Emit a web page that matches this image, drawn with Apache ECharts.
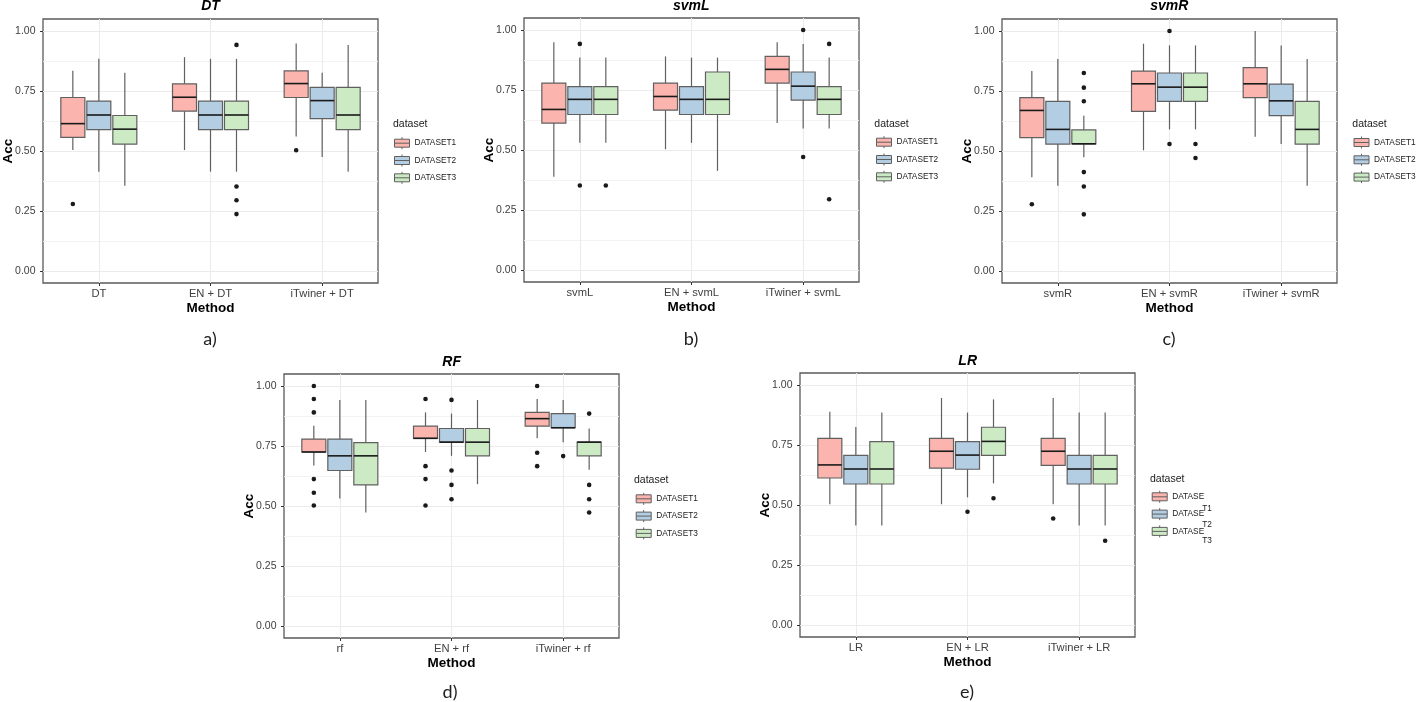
<!DOCTYPE html>
<html><head><meta charset="utf-8">
<script src="https://cdn.jsdelivr.net/npm/echarts@6/dist/echarts.min.js"></script>
<style>html,body{margin:0;padding:0;background:#fff}#c{width:1416px;height:702px}</style>
</head><body><div id="c"></div>
<script>
// ---------------- DATA ----------------
const datasetNames = ['DATASET1', 'DATASET2', 'DATASET3'];
const panelTitles = ['DT', 'svmL', 'svmR', 'RF', 'LR'];
const panelLetters = ['a)', 'b)', 'c)', 'd)', 'e)'];
const yMajorTicks = [0, 0.25, 0.5, 0.75, 1];
const yMinorTicks = [0.125, 0.375, 0.625, 0.875];
const yTickLabels = ['0.00', '0.25', '0.50', '0.75', '1.00'];

const catsDT = ['DT', 'EN + DT', 'iTwiner + DT'];
const catsSvmL = ['svmL', 'EN + svmL', 'iTwiner + svmL'];
const catsSvmR = ['svmR', 'EN + svmR', 'iTwiner + svmR'];
const catsRF = ['rf', 'EN + rf', 'iTwiner + rf'];
const catsLR = ['LR', 'EN + LR', 'iTwiner + LR'];

// each box: [lower whisker, Q1, median, Q3, upper whisker]
const boxDT1 = [[0.504, 0.557, 0.614, 0.723, 0.834], [0.504, 0.666, 0.724, 0.780, 0.891], [0.560, 0.723, 0.781, 0.834, 0.948]];
const boxDT2 = [[0.414, 0.589, 0.650, 0.708, 0.884], [0.414, 0.589, 0.650, 0.708, 0.884], [0.475, 0.635, 0.710, 0.765, 0.826]];
const boxDT3 = [[0.355, 0.529, 0.591, 0.648, 0.826], [0.414, 0.589, 0.650, 0.708, 0.884], [0.414, 0.589, 0.650, 0.765, 0.942]];
const outDT1 = [[0.279], [], [0.503]];
const outDT2 = [[], [], []];
const outDT3 = [[], [0.942, 0.352, 0.295, 0.237], []];

const boxSvmL1 = [[0.389, 0.612, 0.669, 0.779, 0.949], [0.503, 0.666, 0.723, 0.779, 0.890], [0.613, 0.779, 0.836, 0.890, 0.949]];
const boxSvmL2 = [[0.530, 0.648, 0.711, 0.764, 0.885], [0.530, 0.648, 0.711, 0.764, 0.885], [0.590, 0.708, 0.766, 0.825, 0.942]];
const boxSvmL3 = [[0.530, 0.648, 0.711, 0.764, 0.885], [0.413, 0.648, 0.711, 0.825, 0.885], [0.590, 0.648, 0.711, 0.764, 0.885]];
const outSvmL1 = [[], [], []];
const outSvmL2 = [[0.942, 0.352], [], [1.0, 0.471]];
const outSvmL3 = [[0.352], [], [0.942, 0.295]];

const boxSvmR1 = [[0.391, 0.556, 0.669, 0.722, 0.833], [0.503, 0.665, 0.780, 0.833, 0.947], [0.559, 0.722, 0.780, 0.847, 1.0]];
const boxSvmR2 = [[0.355, 0.529, 0.590, 0.707, 0.883], [0.590, 0.707, 0.766, 0.825, 0.940], [0.529, 0.647, 0.709, 0.779, 0.940]];
const boxSvmR3 = [[0.474, 0.530, 0.530, 0.588, 0.647], [0.590, 0.707, 0.766, 0.825, 0.940], [0.355, 0.529, 0.590, 0.707, 0.883]];
const outSvmR1 = [[0.278], [], []];
const outSvmR2 = [[], [1.0, 0.529], []];
const outSvmR3 = [[0.825, 0.764, 0.707, 0.412, 0.352, 0.236], [0.529, 0.471], []];

const boxRF1 = [[0.669, 0.725, 0.725, 0.779, 0.834], [0.725, 0.782, 0.782, 0.833, 0.890], [0.782, 0.833, 0.864, 0.890, 0.946]];
const boxRF2 = [[0.531, 0.648, 0.709, 0.779, 0.942], [0.709, 0.766, 0.766, 0.823, 0.885], [0.766, 0.826, 0.826, 0.885, 0.942]];
const boxRF3 = [[0.473, 0.588, 0.709, 0.764, 0.942], [0.591, 0.709, 0.766, 0.823, 0.942], [0.651, 0.709, 0.766, 0.766, 0.823]];
const outRF1 = [[1.0, 0.946, 0.890, 0.612, 0.555, 0.502], [0.946, 0.666, 0.612, 0.502], [1.0, 0.722, 0.666]];
const outRF2 = [[], [0.942, 0.648, 0.588, 0.528], [0.708]];
const outRF3 = [[], [], [0.885, 0.588, 0.528, 0.473]];

const boxLR1 = [[0.503, 0.6125, 0.667, 0.778, 0.889], [0.503, 0.654, 0.724, 0.778, 0.946], [0.503, 0.665, 0.724, 0.778, 0.946]];
const boxLR2 = [[0.415, 0.5875, 0.650, 0.707, 0.825], [0.532, 0.649, 0.708, 0.764, 0.885], [0.415, 0.5875, 0.650, 0.707, 0.885]];
const boxLR3 = [[0.415, 0.5875, 0.650, 0.764, 0.885], [0.590, 0.707, 0.765, 0.824, 0.940], [0.415, 0.5875, 0.650, 0.707, 0.885]];
const outLR1 = [[], [], [0.444]];
const outLR2 = [[], [0.472], []];
const outLR3 = [[], [0.528], [0.351]];

// ---------------- LAYOUT / STYLE ----------------
const FONT = '"Liberation Sans", Arial, sans-serif';
const COLORS = ['#fbb4ae', '#b3cde3', '#ccebc5'];
const DODGE = 0.2328, BOXW = 0.215;

const panels = [
  { title: panelTitles[0], cats: catsDT, boxes: [boxDT1, boxDT2, boxDT3], outs: [outDT1, outDT2, outDT3],
    g: { left: 43, top: 19 }, leg: { left: 394, top: 136.7 }, dsXY: [393, 124.5], titleXY: [210.5, 6.5], letterXY: [210, 339] },
  { title: panelTitles[1], cats: catsSvmL, boxes: [boxSvmL1, boxSvmL2, boxSvmL3], outs: [outSvmL1, outSvmL2, outSvmL3],
    g: { left: 524, top: 18 }, leg: { left: 876, top: 135.7 }, dsXY: [874.3, 124], titleXY: [691.2, 6.5], letterXY: [691, 339] },
  { title: panelTitles[2], cats: catsSvmR, boxes: [boxSvmR1, boxSvmR2, boxSvmR3], outs: [outSvmR1, outSvmR2, outSvmR3],
    g: { left: 1002, top: 19 }, leg: { left: 1353.5, top: 136 }, dsXY: [1352.3, 124.5], titleXY: [1169.2, 6.5], letterXY: [1169, 339] },
  { title: panelTitles[3], cats: catsRF, boxes: [boxRF1, boxRF2, boxRF3], outs: [outRF1, outRF2, outRF3],
    g: { left: 284, top: 374 }, leg: { left: 635.7, top: 492.3 }, dsXY: [634, 480], titleXY: [451.7, 362.3], letterXY: [450, 692] },
  { title: panelTitles[4], cats: catsLR, boxes: [boxLR1, boxLR2, boxLR3], outs: [outLR1, outLR2, outLR3],
    g: { left: 800, top: 373 }, leg: { left: 1151.7, top: 490.3 }, dsXY: [1150, 479], titleXY: [967.7, 361], letterXY: [967, 692], glitch: true }
];

function makeBoxRender(k) {
  return function (params, api) {
    const ci = api.value(0);
    const band = api.size([1, 0])[0];
    const dx = (k - 1) * band * DODGE, hw = band * BOXW / 2;
    const lo = api.coord([ci, api.value(1)]);
    const q1 = api.coord([ci, api.value(2)]);
    const md = api.coord([ci, api.value(3)]);
    const q3 = api.coord([ci, api.value(4)]);
    const hi = api.coord([ci, api.value(5)]);
    const x = lo[0] + dx;
    const ws = { stroke: '#606060', lineWidth: 1.2 };
    return { type: 'group', children: [
      { type: 'line', shape: { x1: x, y1: hi[1], x2: x, y2: q3[1] }, style: ws },
      { type: 'line', shape: { x1: x, y1: q1[1], x2: x, y2: lo[1] }, style: ws },
      { type: 'rect', shape: { x: x - hw, y: q3[1], width: hw * 2, height: q1[1] - q3[1] },
        style: { fill: COLORS[k], stroke: '#606060', lineWidth: 1.2 } },
      { type: 'line', shape: { x1: x - hw, y1: md[1], x2: x + hw, y2: md[1] }, style: { stroke: '#1a1a1a', lineWidth: 1.6 } }
    ] };
  };
}
function makeOutRender(k) {
  return function (params, api) {
    const ci = api.value(0);
    const band = api.size([1, 0])[0];
    const p = api.coord([ci, api.value(1)]);
    return { type: 'circle', shape: { cx: p[0] + (k - 1) * band * DODGE, cy: p[1], r: 2.3 }, style: { fill: '#1a1a1a' } };
  };
}

const KEY_ICON = 'path://M0,2L15,2L15,10L0,10Z M0,6L15,6 M7.5,0L7.5,2 M7.5,10L7.5,12';

const grids = [], xAxes = [], yAxes = [], series = [], legends = [], graphics = [];
panels.forEach(function (P, i) {
  grids.push({ left: P.g.left, top: P.g.top, width: 335, height: 264, show: true,
    outerBoundsMode: 'none', containLabel: false,
    borderColor: '#5a5a5a', borderWidth: 1.3, backgroundColor: '#fff' });
  xAxes.push({ gridIndex: i, type: 'value', min: -0.5, max: 2.5, position: 'bottom',
    name: 'Method', nameLocation: 'middle', nameGap: 18, nameMoveOverlap: false,
    nameTextStyle: { fontWeight: 'bold', fontSize: 13.5, color: '#000', fontFamily: FONT },
    axisLine: { show: false, onZero: false },
    axisTick: { show: true, inside: false, customValues: [0, 1, 2], length: 3, lineStyle: { color: '#333', width: 1 } },
    axisLabel: { customValues: [0, 1, 2], formatter: function (v) { return P.cats[Math.round(v)]; },
      margin: 5, fontSize: 11.2, color: '#404040', fontFamily: FONT },
    splitLine: { show: true, lineStyle: { color: '#ebebeb', width: 1.1 } } });
  yAxes.push({ gridIndex: i, type: 'value', min: -0.05, max: 1.05, position: 'left',
    name: 'Acc', nameLocation: 'middle', nameRotate: 90, nameGap: 28, nameMoveOverlap: false,
    nameTextStyle: { fontWeight: 'bold', fontSize: 13.5, color: '#000', fontFamily: FONT },
    axisLine: { show: false, onZero: false },
    axisTick: { show: true, inside: false, customValues: yMajorTicks, length: 3, lineStyle: { color: '#333', width: 1 } },
    axisLabel: { customValues: yMajorTicks, formatter: function (v) { return yTickLabels[yMajorTicks.indexOf(v)]; },
      margin: 7.5, fontSize: 10.5, color: '#404040', fontFamily: FONT },
    splitLine: { show: true, lineStyle: { color: '#ebebeb', width: 1.1 } } });
  yAxes.push({ gridIndex: i, type: 'value', min: -0.05, max: 1.05, position: 'right',
    axisLine: { show: false, onZero: false }, axisTick: { show: false, customValues: yMinorTicks },
    axisLabel: { show: false, customValues: yMinorTicks },
    splitLine: { show: true, lineStyle: { color: '#f2f2f2', width: 0.9 } } });
  for (let k = 0; k < 3; k++) {
    series.push({ type: 'custom', name: datasetNames[k], xAxisIndex: i, yAxisIndex: 2 * i,
      itemStyle: { color: COLORS[k] }, renderItem: makeBoxRender(k),
      encode: { x: 0, y: [1, 2, 3, 4, 5] },
      data: P.boxes[k].map(function (b, ci) { return [ci].concat(b); }) });
    const od = [];
    P.outs[k].forEach(function (vals, ci) { vals.forEach(function (v) { od.push([ci, v]); }); });
    series.push({ type: 'custom', name: datasetNames[k], xAxisIndex: i, yAxisIndex: 2 * i,
      itemStyle: { color: COLORS[k] }, renderItem: makeOutRender(k), z: 5,
      encode: { x: 0, y: 1 }, data: od });
  }
  legends.push({ orient: 'vertical', left: P.leg.left, top: P.leg.top, padding: 0,
    itemWidth: 15, itemHeight: 12, itemGap: 4.3, selectedMode: false,
    formatter: P.glitch ? function () { return 'DATASE'; } : undefined,
    textStyle: { fontSize: 8.3, color: '#1a1a1a', fontFamily: FONT },
    data: datasetNames.map(function (n, k) {
      return { name: n, icon: KEY_ICON, itemStyle: { color: COLORS[k], borderColor: '#606060', borderWidth: 1 } };
    }) });
  graphics.push({ type: 'text', x: P.titleXY[0], y: P.titleXY[1],
    style: { text: P.title, align: 'center', verticalAlign: 'middle', fill: '#000',
      font: 'italic bold 14px ' + FONT } });
  graphics.push({ type: 'text', x: P.dsXY[0], y: P.dsXY[1],
    style: { text: 'dataset', align: 'left', verticalAlign: 'middle', fill: '#1a1a1a', font: '10.5px ' + FONT } });
  graphics.push({ type: 'text', x: P.letterXY[0], y: P.letterXY[1],
    style: { text: panelLetters[i], align: 'center', verticalAlign: 'middle', fill: '#222', font: '18px Lato, "Open Sans", sans-serif' } });
  if (P.glitch) {
    ['T1', 'T2', 'T3'].forEach(function (t, j) {
      graphics.push({ type: 'text', x: 1202.3, y: 508.3 + j * 16.3,
        style: { text: t, align: 'left', verticalAlign: 'middle', fill: '#1a1a1a', font: '8.3px ' + FONT } });
    });
  }
});

const chart = echarts.init(document.getElementById('c'), null, { renderer: 'canvas' });
chart.setOption({
  animation: false,
  backgroundColor: '#fff',
  grid: grids, xAxis: xAxes, yAxis: yAxes, series: series, legend: legends, graphic: graphics
});
</script></body></html>
